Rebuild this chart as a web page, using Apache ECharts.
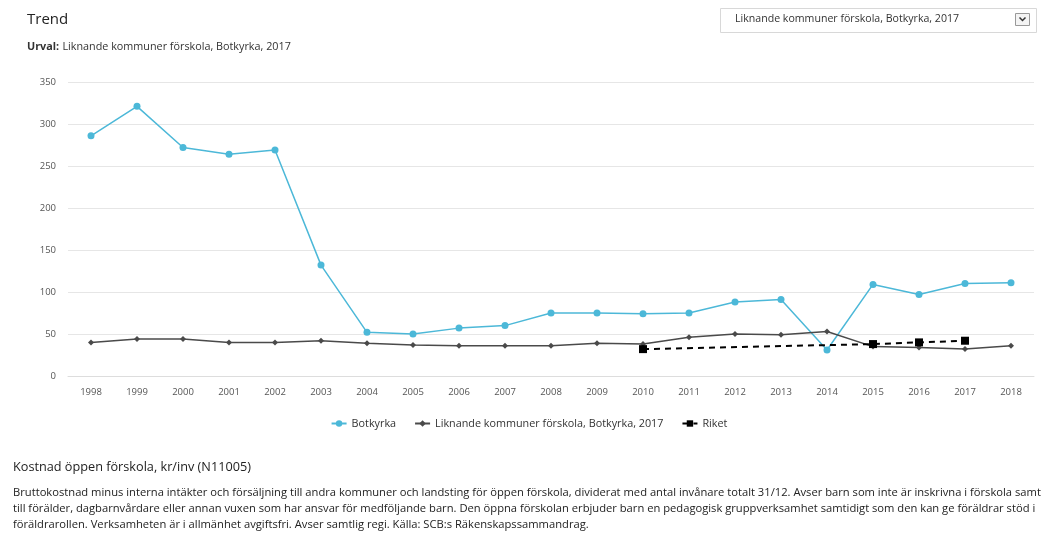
<!DOCTYPE html>
<html><head><meta charset="utf-8">
<script src="https://cdn.jsdelivr.net/npm/echarts@6/dist/echarts.min.js"></script>
<style>html,body{margin:0;padding:0;background:#fff}#c{width:1058px;height:552px}</style>
</head><body><div id="c"></div>
<script>
const years = ['1998','1999','2000','2001','2002','2003','2004','2005','2006','2007','2008','2009','2010','2011','2012','2013','2014','2015','2016','2017','2018'];
const botkyrka = [286,321,272,264,269,132,52,50,57,60,75,75,74,75,88,91,31,109,97,110,111];
const liknande = [40,44,44,40,40,42,39,37,36,36,36,39,38,46,50,49,53,35,34,32,36];
const riket = [null,null,null,null,null,null,null,null,null,null,null,null,32,null,null,null,null,38,40,42,null];
const yTicks = [0,50,100,150,200,250,300,350];

const font = 'Open Sans';
const footer = [
 'Bruttokostnad minus interna intäkter och försäljning till andra kommuner och landsting för öppen förskola, dividerat med antal invånare totalt 31/12. Avser barn som inte är inskrivna i förskola samt',
 'till förälder, dagbarnvårdare eller annan vuxen som har ansvar för medföljande barn. Den öppna förskolan erbjuder barn en pedagogisk gruppverksamhet samtidigt som den kan ge föräldrar stöd i',
 'föräldrarollen. Verksamheten är i allmänhet avgiftsfri. Avser samtlig regi. Källa: SCB:s Räkenskapssammandrag.'
].join('\n');

const chart = echarts.init(document.getElementById('c'));
chart.setOption({
  backgroundColor: '#fff',
  animation: false,
  textStyle: {fontFamily: font},
  graphic: [
    {type:'text', left:27, top:12, style:{text:'Trend', font:'15px "Open Sans"', fill:'#222'}},
    {type:'text', left:27, top:41, style:{rich:{b:{fontWeight:'bold',fontSize:10.8,fontFamily:font,fill:'#333'},n:{fontSize:10.8,fontFamily:font,fill:'#333'}}, text:'{b|Urval:} {n|Liknande kommuner förskola, Botkyrka, 2017}'}},
    {type:'rect', shape:{x:720.5,y:8.5,width:316,height:24}, style:{fill:'#fff', stroke:'#d8d8d8', lineWidth:1}},
    {type:'text', left:735, top:13, style:{text:'Liknande kommuner förskola, Botkyrka, 2017', font:'10.6px "Open Sans"', fill:'#333'}},
    {type:'rect', shape:{x:1015.5,y:13.5,width:14,height:12}, style:{fill:'#f4f4f4', stroke:'#999', lineWidth:1}},
    {type:'polyline', shape:{points:[[1019.5,17.5],[1022.5,20.5],[1025.5,17.5]]}, style:{stroke:'#333', lineWidth:1.5, fill:null}},
    {type:'text', left:13, top:461, style:{text:'Kostnad öppen förskola, kr/inv (N11005)', font:'12.7px "Open Sans"', fill:'#222'}},
    {type:'text', left:13, top:485, style:{text:footer, font:'11.2px "Open Sans"', lineHeight:16, fill:'#222'}}
  ],
  legend: {
    top: 413, left: 'center', itemGap: 18, itemWidth: 15, itemHeight: 8,
    textStyle: {fontSize: 10.8, color: '#333', fontFamily: font},
    data: ['Botkyrka','Liknande kommuner förskola, Botkyrka, 2017','Riket']
  },
  grid: {left: 68, right: 24, top: 82, bottom: 176},
  xAxis: {
    type: 'category', data: years, boundaryGap: true,
    axisLine: {lineStyle: {color: '#ddd'}},
    axisTick: {show: false},
    axisLabel: {color: '#555', fontSize: 9.5, margin: 11}
  },
  yAxis: {
    type: 'value', min: 0, max: 350, interval: 50,
    axisLine: {show: false}, axisTick: {show: false},
    axisLabel: {color: '#555', fontSize: 9.5, margin: 12},
    splitLine: {lineStyle: {color: '#e6e6e6'}}
  },
  series: [
    {name:'Botkyrka', type:'line', data: botkyrka, color:'#4cb8d8', symbol:'circle', symbolSize:7, lineStyle:{width:1.5}},
    {name:'Liknande kommuner förskola, Botkyrka, 2017', type:'line', data: liknande, color:'#4a4a4a', symbol:'diamond', symbolSize:6, lineStyle:{width:1.5}},
    {name:'Riket', type:'line', data: riket, connectNulls:true, color:'#000', symbol:'rect', symbolSize:8, lineStyle:{width:2, type:[6,5]}}
  ]
});
</script></body></html>
